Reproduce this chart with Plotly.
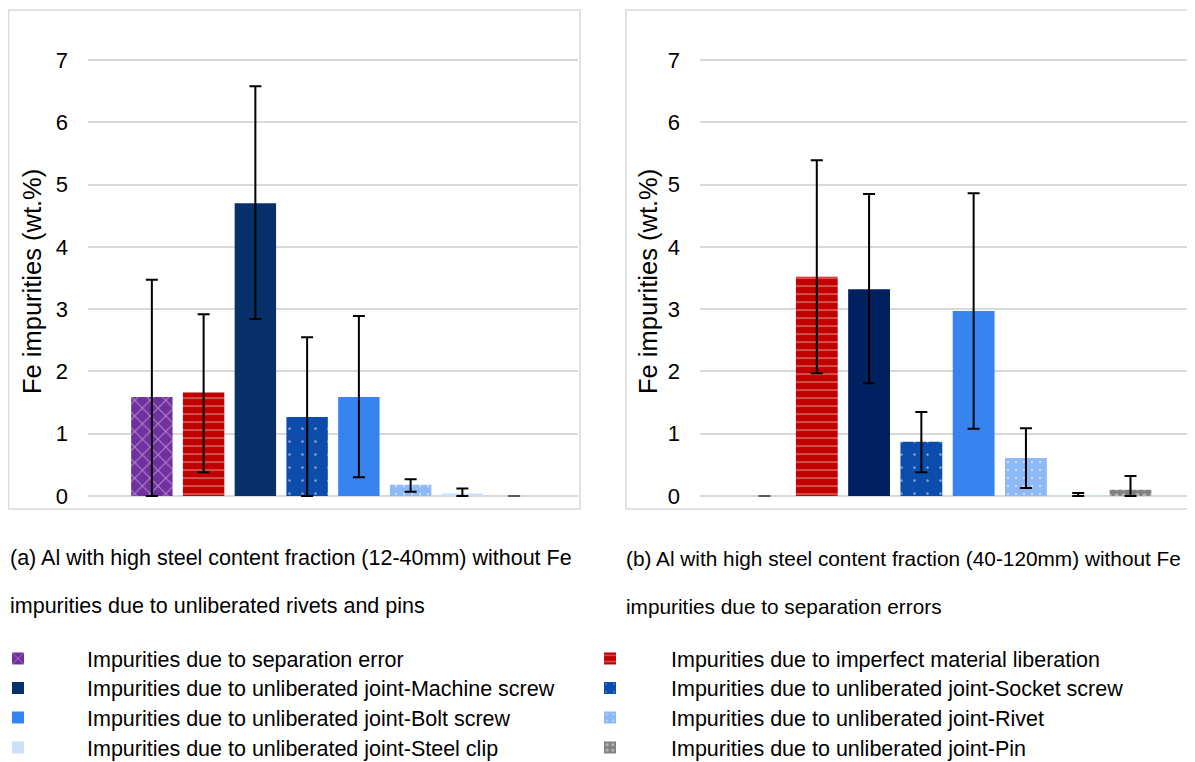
import plotly.graph_objects as go

# ---------------- data ----------------
series = [
    "Impurities due to separation error",
    "Impurities due to imperfect material liberation",
    "Impurities due to unliberated joint-Machine screw",
    "Impurities due to unliberated joint-Socket screw",
    "Impurities due to unliberated joint-Bolt screw",
    "Impurities due to unliberated joint-Rivet",
    "Impurities due to unliberated joint-Steel clip",
    "Impurities due to unliberated joint-Pin",
]
category = ["Fe"]

vals_a = [1.59, 1.66, 4.70, 1.27, 1.59, 0.18, 0.04, 0.00]
err_a_plus = [1.88, 1.26, 1.88, 1.28, 1.30, 0.09, 0.08, 0.00]
err_a_minus = [1.59, 1.28, 1.86, 1.27, 1.29, 0.11, 0.04, 0.00]

vals_b = [0.00, 3.52, 3.32, 0.87, 2.97, 0.61, 0.01, 0.10]
err_b_plus = [0.00, 1.87, 1.53, 0.48, 1.89, 0.48, 0.04, 0.22]
err_b_minus = [0.00, 1.55, 1.51, 0.49, 1.89, 0.48, 0.01, 0.10]

y_ticks = [0, 1, 2, 3, 4, 5, 6, 7]
y_title = "Fe impurities (wt.%)"
caption_a = ["(a) Al with high steel content fraction (12-40mm) without Fe",
             "impurities due to unliberated rivets and pins"]
caption_b = ["(b) Al with high steel content fraction (40-120mm) without Fe",
             "impurities due to separation errors"]

# ---------------- styles ----------------
colors_a = ["#7030A0", "#C00000", "#08306B", "#0C4DAB", "#3784F0", "#8DB9F6", "#CCDFF8", "#808080"]
colors_b = ["#7030A0", "#C00000", "#002060", "#0C4DAB", "#3784F0", "#8DB9F6", "#CCDFF8", "#808080"]
patterns = [
    dict(shape="x", fgcolor="rgba(255,255,255,0.85)", size=11, solidity=0.18),
    dict(shape="-", fgcolor="rgba(255,255,255,0.7)", size=8, solidity=0.22),
    dict(shape=""),
    dict(shape=".", fgcolor="white", size=13, solidity=0.03),
    dict(shape=""),
    dict(shape=".", fgcolor="white", size=8, solidity=0.08),
    dict(shape=""),
    dict(shape=".", fgcolor="rgba(255,255,255,0.8)", size=7, solidity=0.3),
]
FONT = "Liberation Sans, Arial, sans-serif"
W, H = 1195, 762
OFF = 8  # page body margin


def py(pix):
    return 1 - (pix - OFF) / H


def px(pix):
    return (pix - OFF) / W


legend_names = ["legend"] + ["legend%d" % k for k in range(2, 9)]
legend_rows = [659, 688.5, 718, 748]

fig = go.Figure()

for i, name in enumerate(series):
    fig.add_trace(go.Bar(
        x=category, y=[vals_a[i]], name=name, xaxis="x", yaxis="y",
        marker=dict(color=colors_a[i], line=dict(width=0), pattern=patterns[i]),
        error_y=dict(type="data", symmetric=False, array=[err_a_plus[i]],
                     arrayminus=[err_a_minus[i]],
                     color="#595959" if vals_a[i] == 0 else "black",
                     thickness=2, width=6),
        legend=legend_names[i], showlegend=True,
    ))
for i, name in enumerate(series):
    fig.add_trace(go.Bar(
        x=category, y=[vals_b[i]], name=name, xaxis="x2", yaxis="y2",
        marker=dict(color=colors_b[i], line=dict(width=0), pattern=patterns[i]),
        error_y=dict(type="data", symmetric=False, array=[err_b_plus[i]],
                     arrayminus=[err_b_minus[i]],
                     color="#595959" if vals_b[i] == 0 else "black",
                     thickness=2, width=6),
        showlegend=False,
    ))

ydom = [py(497.9), py(58.1)]
yax = dict(range=[-0.03, 7.03], tickvals=y_ticks, showgrid=True, gridcolor="#D9D9D9",
           gridwidth=1.5, zeroline=True, zerolinecolor="#D9D9D9", zerolinewidth=1.5,
           showline=False, ticks="", ticklabelstandoff=19,
           tickfont=dict(family=FONT, size=22, color="black"), domain=ydom, fixedrange=True)
xax = dict(showticklabels=False, showgrid=False, zeroline=False, showline=False, ticks="")

layout = dict(
    width=W, height=H,
    margin=dict(l=0, r=0, t=0, b=0, autoexpand=False),
    paper_bgcolor="white", plot_bgcolor="white",
    barmode="group", bargap=0.155, bargroupgap=0.2,
    font=dict(family=FONT, color="black"),
    xaxis=dict(xax, domain=[px(88), px(578)], anchor="y"),
    yaxis=dict(yax, anchor="x"),
    xaxis2=dict(xax, domain=[px(700), px(1195)], anchor="y2"),
    yaxis2=dict(yax, anchor="x2"),
)
for i, lname in enumerate(legend_names):
    col = i % 2
    row = i // 2
    layout[lname] = dict(
        x=px(-51) if col == 0 else px(549), y=py(legend_rows[row] - 21),
        xanchor="left", yanchor="top", orientation="v",
        font=dict(family=FONT, size=21.5, color="black"),
        itemwidth=128 if col == 0 else 112,
        bgcolor="rgba(0,0,0,0)",
    )
fig.update_layout(**layout)

# panel borders
for x0, x1 in [(8.5, 580), (626, 1210)]:
    fig.add_shape(type="rect", xref="paper", yref="paper", x0=px(x0), x1=px(x1),
                  y0=py(509), y1=py(10), line=dict(color="#D9D9D9", width=1.5),
                  fillcolor="rgba(0,0,0,0)", layer="below")

# y titles
for xc in [32, 648]:
    fig.add_annotation(text=y_title, xref="paper", yref="paper", x=px(xc), y=py(282),
                       textangle=-90, showarrow=False, xanchor="center", yanchor="middle",
                       font=dict(family=FONT, size=25.5, color="black"))

# captions
for x0, cap, fs in [(8, caption_a, 21.5), (624, caption_b, 20.8)]:
    for line, yc in zip(cap, [558, 606]):
        fig.add_annotation(text=line, xref="paper", yref="paper", x=px(x0), y=py(yc),
                           showarrow=False, xanchor="left", yanchor="middle",
                           font=dict(family=FONT, size=fs, color="black"))

fig.write_html("out.html")
